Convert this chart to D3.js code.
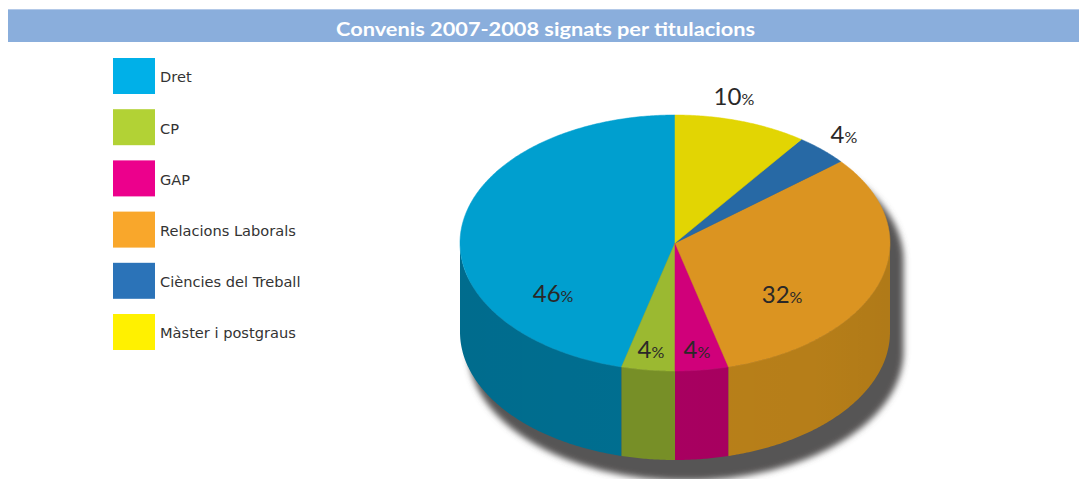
<!DOCTYPE html>
<html>
<head>
<meta charset="utf-8">
<script src="https://cdn.jsdelivr.net/npm/d3@7"></script>
<style>
  body { margin: 0; background: #fff; }
  svg { display: block; }
</style>
</head>
<body>
<svg id="chart" width="1079" height="479"></svg>
<script>
// ---- data ----
const titleText = "Convenis 2007-2008 signats per titulacions";
const categories = ["Dret", "CP", "GAP", "Relacions Laborals", "Ciències del Treball", "Màster i postgraus"];
const shares = [46, 4, 4, 32, 4, 10];
const legendColors = ["#00b0e8", "#b2d235", "#ec008c", "#f9a72b", "#2b73b8", "#fff100"];
const topColors = ["#009fcf", "#9bb931", "#d0007a", "#db9421", "#2769a5", "#e2d503"];
const sideColors = ["#006e90", "#778f27", "#a80060", "#b98019", "#1d4f7e", "#aaa002"];

// ---- layout ----
const W = 1079, H = 479;
const cx = 675, cy = 243, rx = 215, ry = 128, depth = 89;
// label anchors in ellipse-normalised units (x / rx, y / ry from the centre)
const labelAnchors = [[-0.567, 0.461], [-0.112, 0.898], [0.102, 0.898], [0.498, 0.469], [0.786, -0.781], [0.274, -1.078]];

const svg = d3.select("#chart");
const defs = svg.append("defs");

// title band
svg.append("rect").attr("x", 8).attr("y", 9).attr("width", W - 8).attr("height", 33).attr("fill", "#8aaedc");
svg.append("line").attr("x1", 8).attr("x2", W).attr("y1", 9.5).attr("y2", 9.5).attr("stroke", "#b3c9e8").attr("stroke-width", 1);
svg.append("text")
  .attr("x", 545.5).attr("y", 35.5)
  .attr("text-anchor", "middle")
  .attr("font-family", "Lato, 'Open Sans', sans-serif")
  .attr("font-weight", "bold")
  .attr("font-size", 19)
  .attr("fill", "#fff")
  .attr("textLength", 419).attr("lengthAdjust", "spacingAndGlyphs")
  .text(titleText);

// legend
const legend = svg.append("g");
categories.forEach((c, i) => {
  const y0 = 58 + i * 51.2;
  legend.append("rect").attr("x", 113).attr("y", y0).attr("width", 42).attr("height", 36).attr("fill", legendColors[i]);
  legend.append("text").attr("x", 160).attr("y", y0 + 24.3)
    .attr("font-family", "'DejaVu Sans', sans-serif").attr("font-size", 14.6).attr("fill", "#333")
    .text(c);
});

// ellipse projection scales
const ex = d3.scaleLinear().domain([-1, 1]).range([cx - rx, cx + rx]);
const ey = d3.scaleLinear().domain([-1, 1]).range([cy - ry, cy + ry]);
const pt = (a, dy = 0) => [ex(Math.sin(a)), ey(-Math.cos(a)) + dy];
const samples = (a0, a1, dy = 0) => {
  const n = Math.max(2, Math.ceil(Math.abs(a1 - a0) / 0.01));
  return d3.range(n + 1).map(k => pt(a0 + (a1 - a0) * k / n, dy));
};
const line = d3.line();

// slices run counter-clockwise from 12 o'clock in category order
const arcs = d3.pie().sort(null).value(d => d).startAngle(0).endAngle(-2 * Math.PI)(shares)
  .map((d, i) => {
    const lo = Math.min(d.startAngle, d.endAngle) + 2 * Math.PI;
    const hi = Math.max(d.startAngle, d.endAngle) + 2 * Math.PI;
    return { i, lo, hi };
  });

// drop shadow
const blur = defs.append("filter").attr("id", "soft").attr("filterUnits", "userSpaceOnUse")
  .attr("x", 0).attr("y", 0).attr("width", W).attr("height", H + 40);
blur.append("feGaussianBlur").attr("stdDeviation", 3.2);
const silhouette = samples(-Math.PI / 2, Math.PI / 2)
  .concat(samples(Math.PI / 2, 3 * Math.PI / 2, depth));
svg.append("g").attr("filter", "url(#soft)")
  .append("path")
  .attr("d", line(silhouette) + "Z")
  .attr("transform", `translate(${cx + 11},${cy + 18}) scale(1.012) translate(${-cx},${-cy})`)
  .attr("fill", "#575554");

// side walls (front half only)
const sideGrad = defs.append("linearGradient").attr("id", "sideShade")
  .attr("gradientUnits", "userSpaceOnUse").attr("x1", cx - rx).attr("x2", cx + rx).attr("y1", 0).attr("y2", 0);
[[0, 0.02], [0.45, 0], [0.85, 0.02], [1, 0.05]].forEach(([o, a]) =>
  sideGrad.append("stop").attr("offset", o).attr("stop-color", "#000").attr("stop-opacity", a));

const sides = svg.append("g");
arcs.forEach(d => {
  const s = Math.max(d.lo, Math.PI / 2), e = Math.min(d.hi, 3 * Math.PI / 2);
  if (e <= s) return;
  const pts = samples(s, e).concat(samples(e, s, depth));
  sides.append("path").attr("d", line(pts) + "Z").attr("fill", sideColors[d.i]);
  sides.append("path").attr("d", line(pts) + "Z").attr("fill", "url(#sideShade)");
});

// top faces
const tops = svg.append("g");
arcs.forEach(d => {
  const pts = [[cx, cy]].concat(samples(d.lo, d.hi));
  tops.append("path").attr("d", line(pts) + "Z")
    .attr("fill", topColors[d.i])
    .attr("stroke", topColors[d.i]).attr("stroke-width", 0.5);
});

// percentage labels
const labels = svg.append("g")
  .attr("font-family", "Lato, 'Open Sans', sans-serif")
  .attr("fill", "#2a2828")
  .attr("text-anchor", "middle");
arcs.forEach(d => {
  const [u, v] = labelAnchors[d.i];
  const t = labels.append("text").attr("x", ex(u)).attr("y", ey(v));
  t.append("tspan").attr("font-size", 24).text(shares[d.i]);
  t.append("tspan").attr("font-size", 16).text("%");
});
</script>
</body>
</html>
